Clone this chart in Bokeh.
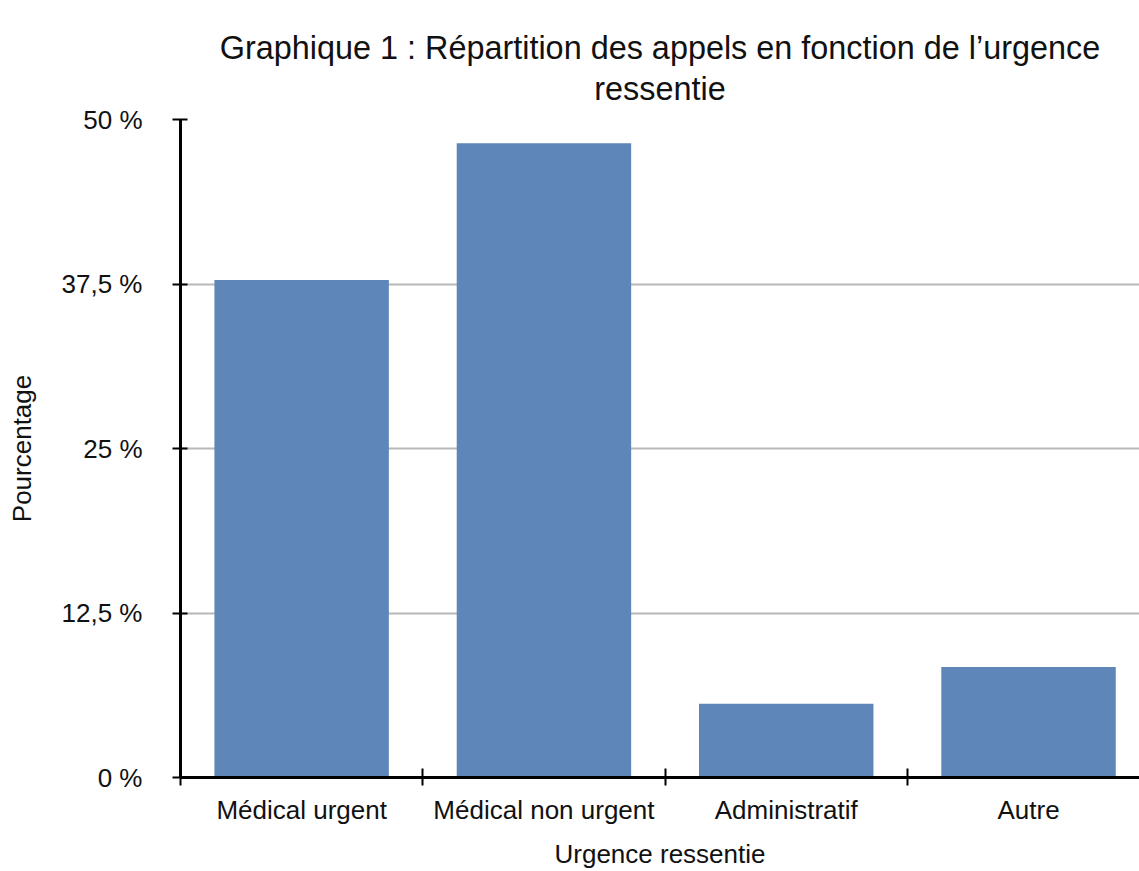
from bokeh.plotting import figure
from bokeh.models import Range1d, FixedTicker, ColumnDataSource
from bokeh.embed import file_html
from bokeh.resources import INLINE

categories = ["Médical urgent", "Médical non urgent", "Administratif", "Autre"]
values = [37.8, 48.2, 5.6, 8.4]
y_ticks = [0, 12.5, 25, 37.5, 50]
y_tick_labels = ["0 %", "12,5 %", "25 %", "37,5 %", "50 %"]
title_lines = ["Graphique 1 : Répartition des appels en fonction de l’urgence", "ressentie"]

FONT = "Liberation Sans"
TXT = "#111111"

xs = list(range(len(categories)))
src = ColumnDataSource(dict(x=xs, top=values))

p = figure(width=1139, height=871, output_backend="svg", toolbar_location=None,
           x_range=Range1d(-0.5, 3.458), y_range=Range1d(0, 50))
p.min_border_left = 180
p.min_border_right = 0
p.min_border_top = 119
p.min_border_bottom = 94
p.outline_line_color = None

p.vbar(x="x", top="top", bottom=0, width=0.72, source=src, color="#5e86b8", line_color=None)

# axes
xa = p.xaxis[0]
xa.ticker = FixedTicker(ticks=xs, minor_ticks=[-0.5, 0.5, 1.5, 2.5])
xa.major_label_overrides = {i: c for i, c in enumerate(categories)}
xa.major_tick_in = 0
xa.major_tick_out = 0
xa.minor_tick_in = 9
xa.minor_tick_out = 8
xa.minor_tick_line_color = "black"
xa.minor_tick_line_width = 2
xa.axis_line_width = 3
xa.axis_line_color = "black"
xa.major_label_text_font = FONT
xa.major_label_text_font_size = "26px"
xa.major_label_text_color = TXT
xa.major_label_standoff = 9
xa.axis_label = "Urgence ressentie"
xa.axis_label_text_font = FONT
xa.axis_label_text_font_size = "26px"
xa.axis_label_text_font_style = "normal"
xa.axis_label_text_color = TXT
xa.axis_label_standoff = 11

ya = p.yaxis[0]
ya.ticker = FixedTicker(ticks=y_ticks, minor_ticks=[])
ya.major_label_overrides = {t: l for t, l in zip(y_ticks, y_tick_labels)}
ya.major_tick_in = 7
ya.major_tick_out = 8
ya.major_tick_line_width = 2
ya.major_tick_line_color = "black"
ya.axis_line_width = 3
ya.axis_line_color = "black"
ya.major_label_text_font = FONT
ya.major_label_text_font_size = "26px"
ya.major_label_text_color = TXT
ya.major_label_standoff = 30
ya.axis_label = "Pourcentage"
ya.axis_label_text_font = FONT
ya.axis_label_text_font_size = "26px"
ya.axis_label_text_font_style = "normal"
ya.axis_label_text_color = TXT
ya.axis_label_standoff = 22

p.xgrid.grid_line_color = None
p.ygrid.ticker = FixedTicker(ticks=y_ticks)
p.ygrid.grid_line_color = "#b8b8b8"
p.ygrid.grid_line_width = 2

# two-line title
p.title.text = "\n".join(title_lines)
p.title.align = "center"
p.title.vertical_align = "top"
p.title.text_align = "center"
p.title.text_line_height = 1.14
p.title.standoff = 22
p.title.text_font = FONT
p.title.text_font_size = "32.4px"
p.title.text_font_style = "normal"
p.title.text_color = TXT

open("out.html", "w").write(file_html(p, INLINE))
